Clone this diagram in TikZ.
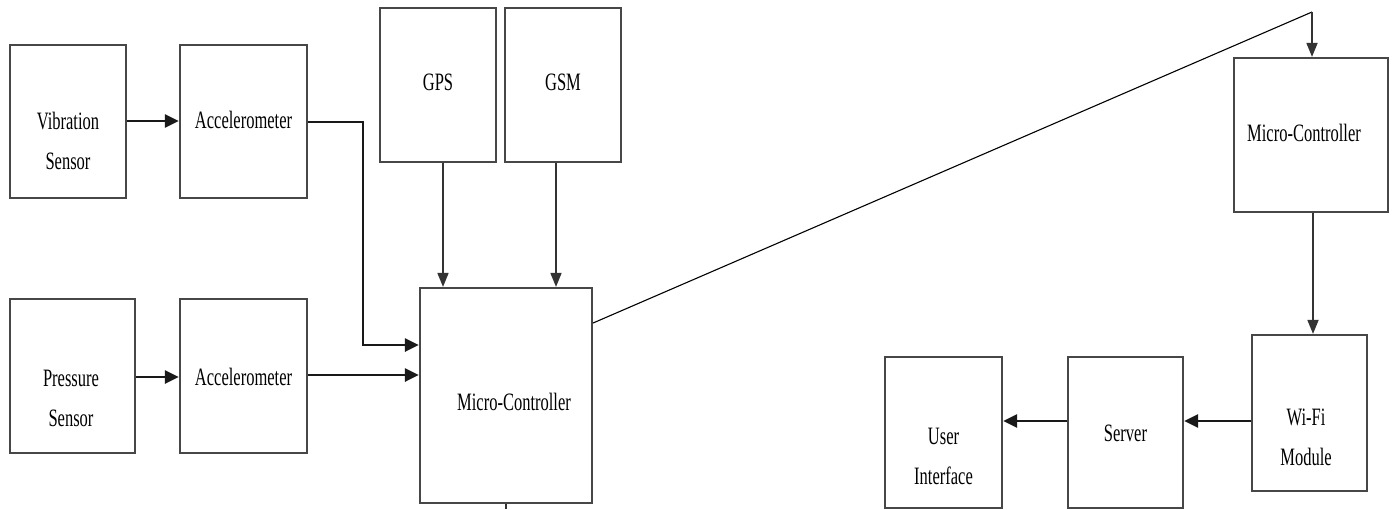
\documentclass[tikz,border=0pt]{standalone}
\usepackage{fontspec}
\setmainfont{Liberation Serif}
\usepackage{graphicx}
\usetikzlibrary{arrows.meta}
\newcommand\sq[1]{\scalebox{0.66}[1]{#1}}
\newcommand\two[2]{\sq{\begin{tabular}[t]{@{}c@{}}#1\\#2\end{tabular}}}
\tikzset{
  box/.style={draw=black!72, line width=2.2pt, inner sep=0pt, fill=white},
  lbl/.style={font=\fontsize{25}{40}\selectfont, inner sep=0pt, anchor=base, text=black},
  bigarrow/.style={draw=black!90, line width=2.8pt, -{Triangle[length=14pt,width=13pt]}},
  smallarrow/.style={draw=black!80, line width=1.7pt, -{Triangle[length=14pt,width=11pt]}},
  thinline/.style={draw=black, line width=1.1pt},
}
\begin{document}
\begin{tikzpicture}[x=1pt,y=-1pt]
\useasboundingbox[fill=white] (0,0) rectangle (1393,509);
% boxes
\node[box, minimum width=116, minimum height=153] (vs) at (68,121.5) {};
\node[box, minimum width=127, minimum height=153] (a1) at (243.5,121.5) {};
\node[box, minimum width=125, minimum height=154] (ps) at (72.5,376) {};
\node[box, minimum width=127, minimum height=154] (a2) at (243.5,376) {};
\node[box, minimum width=116, minimum height=154] (gps) at (438,85) {};
\node[box, minimum width=116, minimum height=154] (gsm) at (563,85) {};
\node[box, minimum width=172, minimum height=215] (mc) at (506,395.5) {};
\node[box, minimum width=154, minimum height=154] (rmc) at (1311,135) {};
\node[box, minimum width=115, minimum height=156] (wifi) at (1309.5,413) {};
\node[box, minimum width=115, minimum height=151] (server) at (1125.5,432.5) {};
\node[box, minimum width=117, minimum height=151] (ui) at (943.5,432.5) {};
% labels
\node[lbl] (vs-t) at (68,129) {\two{Vibration}{Sensor}};
\node[lbl] (a1-t) at (243.5,128) {\sq{Accelerometer}};
\node[lbl] (ps-t) at (71,386) {\two{Pressure}{Sensor}};
\node[lbl] (a2-t) at (243.5,385) {\sq{Accelerometer}};
\node[lbl] (gps-t) at (438,90) {\sq{GPS}};
\node[lbl] (gsm-t) at (563,90) {\sq{GSM}};
\node[lbl] (mc-t) at (514,410) {\sq{Micro-Controller}};
\node[lbl] (rmc-t) at (1304,141) {\sq{Micro-Controller}};
\node[lbl] (wifi-t) at (1306,425) {\two{Wi-Fi}{Module}};
\node[lbl] (server-t) at (1125.5,441) {\sq{Server}};
\node[lbl] (ui-t) at (943.5,444) {\two{User}{Interface}};
% helper coordinates
\coordinate (bend1) at (363,122);
\coordinate (gpsx) at (443,0);
\coordinate (gsmx) at (556,0);
\coordinate (corner) at (1312,12);
\coordinate (mcout) at (592,323);
\coordinate (stub) at (506,509);
\coordinate (in1) at (0,345);
\coordinate (in2) at (0,375);
\coordinate (wy) at (0,421);
% connectors
\draw[bigarrow] (vs.east |- 0,121) -- (a1.west |- 0,121);
\draw[bigarrow] (ps.east |- 0,377) -- (a2.west |- 0,377);
\draw[bigarrow] (a1.east |- bend1) -- (bend1) -- (bend1 |- in1) -- (mc.west |- in1);
\draw[bigarrow] (a2.east |- in2) -- (mc.west |- in2);
\draw[smallarrow] (gps.south -| gpsx) -- (mc.north -| gpsx);
\draw[smallarrow] (gsm.south -| gsmx) -- (mc.north -| gsmx);
\draw[thinline] (mc.east |- mcout) -- (corner);
\draw[smallarrow] (corner) -- (rmc.north -| corner);
\draw[smallarrow] (rmc.south -| 1313,0) -- (wifi.north -| 1313,0);
\draw[bigarrow] (wifi.west |- wy) -- (server.east |- wy);
\draw[bigarrow] (server.west |- wy) -- (ui.east |- wy);
\draw[draw=black!80, line width=1.6pt] (mc.south) -- (stub);
\end{tikzpicture}
\end{document}
